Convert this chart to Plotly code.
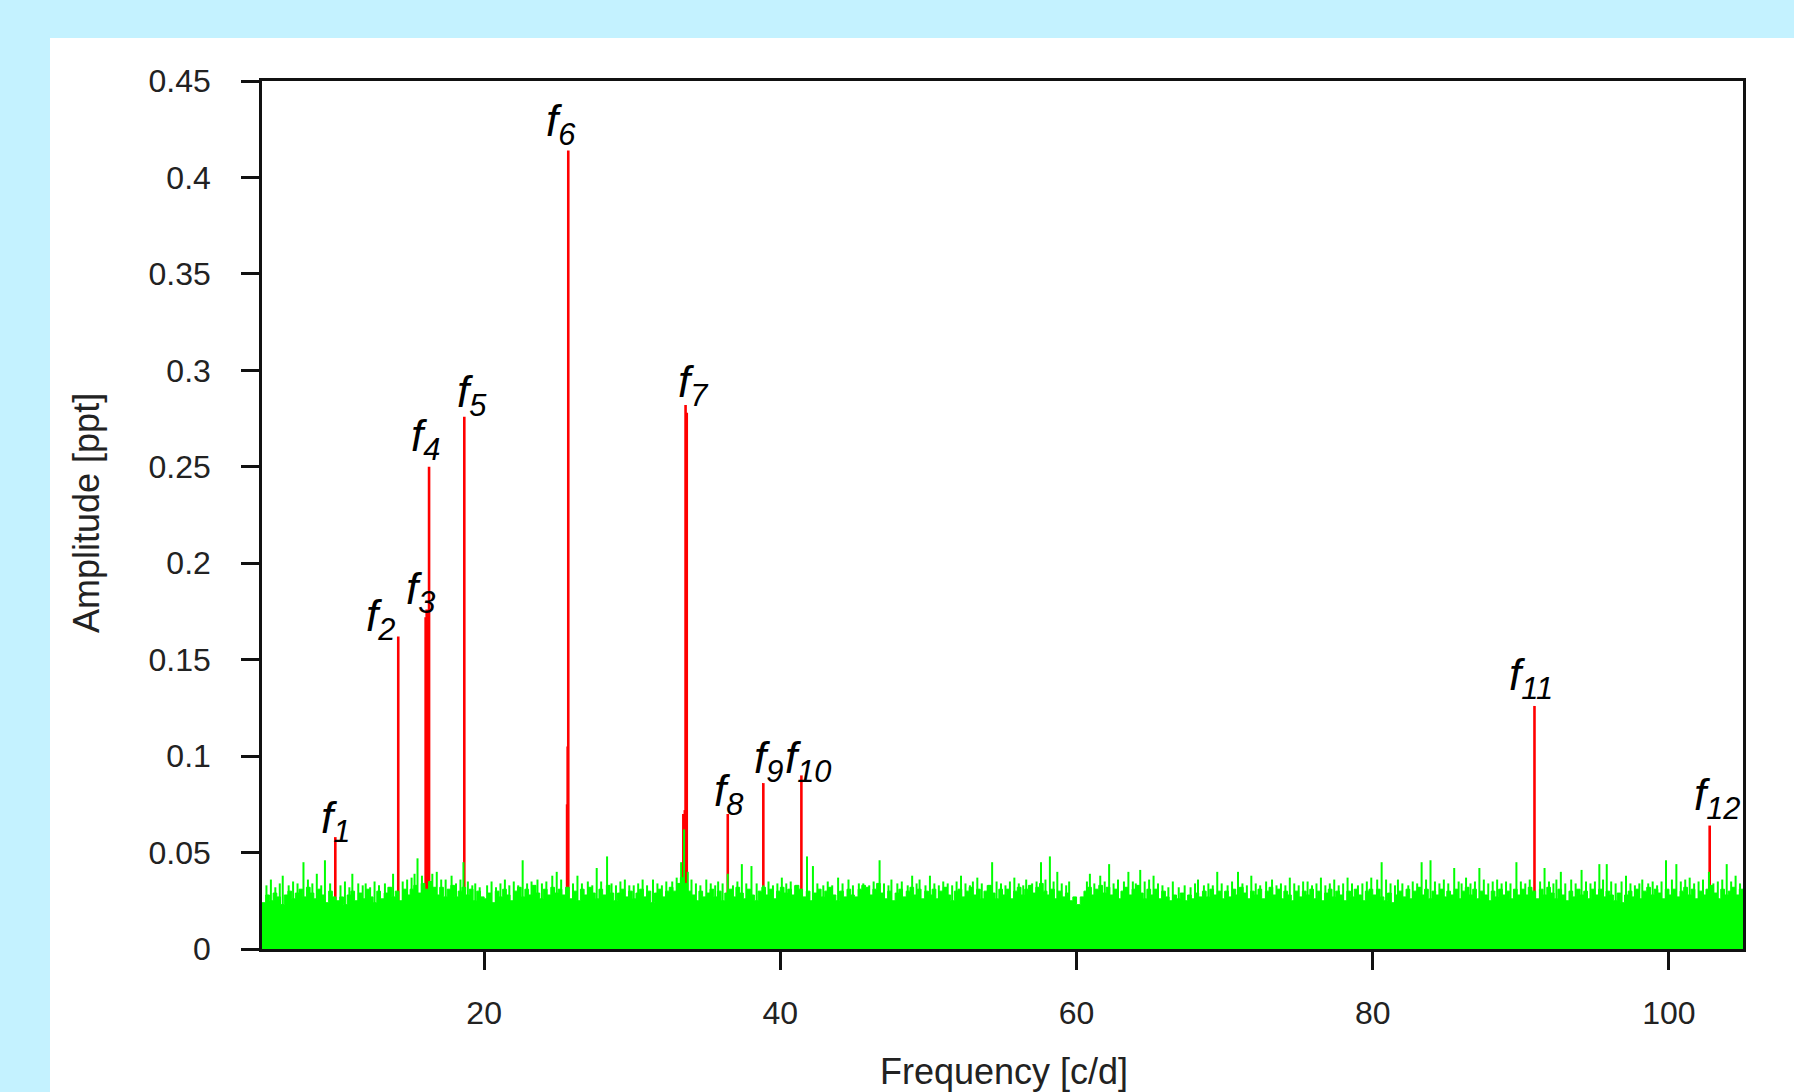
import numpy as np
import plotly.graph_objects as go

# ---------------- data ----------------
# identified frequencies (c/d) and amplitudes (ppt)
peak_labels = ["1", "2", "3", "4", "5", "6", "7", "8", "9", "10", "11", "12"]
peak_freq = [9.95, 14.2, 16.12, 16.28, 18.66, 25.68, 33.6, 36.45, 38.85, 41.42, 90.92, 102.75]
peak_amp = [0.058, 0.162, 0.176, 0.250, 0.276, 0.414, 0.282, 0.070, 0.086, 0.090, 0.126, 0.064]

# extra red structure (side lobes / unresolved components) of the original spectrum
extra_red_freq = [16.05, 16.2, 25.6, 25.64, 33.45, 33.55, 33.68]
extra_red_amp = [0.172, 0.168, 0.075, 0.105, 0.070, 0.072, 0.278]

# residual (prewhitened) spectrum: envelope sampled every 0.25 c/d from 5 to 105
noise_top = [
    0.024, 0.028, 0.025, 0.029, 0.027, 0.023, 0.028, 0.030, 0.026, 0.029, 0.031, 0.027, 0.032, 0.029, 0.026, 0.031, 0.028, 0.024, 0.030, 0.027,
    0.025, 0.027, 0.023, 0.028, 0.030, 0.025, 0.029, 0.026, 0.031, 0.027, 0.024, 0.030, 0.026, 0.029, 0.032, 0.027, 0.030, 0.025, 0.031, 0.028,
    0.031, 0.033, 0.029, 0.034, 0.031, 0.035, 0.032, 0.028, 0.032, 0.027, 0.031, 0.033, 0.027, 0.030, 0.032, 0.028, 0.031, 0.025, 0.030, 0.027,
    0.026, 0.029, 0.024, 0.030, 0.027, 0.031, 0.028, 0.025, 0.030, 0.032, 0.027, 0.031, 0.028, 0.033, 0.029, 0.026, 0.031, 0.028, 0.032, 0.029,
    0.031, 0.028, 0.032, 0.026, 0.030, 0.025, 0.031, 0.028, 0.032, 0.029, 0.026, 0.031, 0.028, 0.033, 0.029, 0.025, 0.029, 0.031, 0.027, 0.030,
    0.026, 0.029, 0.031, 0.027, 0.030, 0.024, 0.029, 0.031, 0.027, 0.030, 0.032, 0.030, 0.034, 0.037, 0.034, 0.030, 0.028, 0.025, 0.030, 0.027,
    0.029, 0.031, 0.027, 0.030, 0.025, 0.029, 0.031, 0.027, 0.032, 0.029, 0.026, 0.031, 0.028, 0.025, 0.030, 0.032, 0.028, 0.031, 0.026, 0.030,
    0.032, 0.029, 0.031, 0.028, 0.033, 0.031, 0.027, 0.030, 0.025, 0.029, 0.031, 0.027, 0.030, 0.032, 0.028, 0.025, 0.030, 0.027, 0.031, 0.028,
    0.027, 0.031, 0.033, 0.032, 0.028, 0.031, 0.034, 0.029, 0.026, 0.030, 0.025, 0.029, 0.031, 0.027, 0.030, 0.032, 0.028, 0.031, 0.026, 0.030,
    0.028, 0.031, 0.026, 0.030, 0.032, 0.028, 0.025, 0.030, 0.031, 0.027, 0.030, 0.032, 0.028, 0.031, 0.026, 0.030, 0.033, 0.029, 0.026, 0.031,
    0.028, 0.031, 0.026, 0.030, 0.032, 0.028, 0.031, 0.033, 0.029, 0.032, 0.034, 0.030, 0.028, 0.031, 0.026, 0.030, 0.027, 0.029, 0.025, 0.027,
    0.023, 0.027, 0.030, 0.032, 0.028, 0.031, 0.033, 0.029, 0.032, 0.028, 0.031, 0.026, 0.030, 0.032, 0.028, 0.031, 0.033, 0.029, 0.026, 0.031,
    0.028, 0.031, 0.026, 0.030, 0.027, 0.025, 0.028, 0.026, 0.029, 0.025, 0.028, 0.026, 0.029, 0.027, 0.030, 0.027, 0.031, 0.028, 0.030, 0.026,
    0.030, 0.027, 0.031, 0.028, 0.032, 0.029, 0.026, 0.030, 0.028, 0.031, 0.026, 0.030, 0.032, 0.028, 0.031, 0.026, 0.030, 0.028, 0.025, 0.030,
    0.027, 0.030, 0.028, 0.031, 0.026, 0.030, 0.025, 0.029, 0.031, 0.027, 0.030, 0.028, 0.025, 0.030, 0.027, 0.031, 0.028, 0.025, 0.030, 0.031,
    0.028, 0.031, 0.027, 0.025, 0.029, 0.024, 0.028, 0.030, 0.027, 0.031, 0.026, 0.030, 0.032, 0.028, 0.031, 0.026, 0.030, 0.028, 0.031, 0.027,
    0.030, 0.028, 0.031, 0.026, 0.030, 0.032, 0.028, 0.031, 0.026, 0.030, 0.028, 0.025, 0.030, 0.027, 0.031, 0.028, 0.030, 0.026, 0.031, 0.028,
    0.031, 0.028, 0.032, 0.030, 0.026, 0.031, 0.028, 0.032, 0.029, 0.026, 0.031, 0.028, 0.025, 0.030, 0.027, 0.031, 0.028, 0.030, 0.026, 0.031,
    0.028, 0.031, 0.027, 0.030, 0.028, 0.025, 0.029, 0.024, 0.028, 0.030, 0.027, 0.031, 0.026, 0.030, 0.032, 0.028, 0.031, 0.029, 0.026, 0.031,
    0.028, 0.031, 0.027, 0.030, 0.032, 0.028, 0.031, 0.026, 0.030, 0.028, 0.031, 0.033, 0.029, 0.026, 0.031, 0.028, 0.030, 0.032, 0.028, 0.031,
    0.030,
]
noise_step = 0.25
noise_start = 5.0

# isolated residual noise spikes: frequency (c/d) and amplitude (ppt)
spike_freq = [
    5.3, 5.6, 5.9, 6.2, 6.4, 6.8, 7.1, 7.4, 7.8, 8.1, 8.4, 8.7, 9.0, 9.25, 9.6,
    10.3, 10.6, 10.9, 11.1, 11.5, 11.8, 12.0, 12.3, 12.6, 12.9, 13.3, 13.6, 13.85, 14.5, 14.8,
    15.1, 15.3, 15.5, 15.8, 16.5, 16.8, 17.1, 17.4, 17.8, 18.1, 18.4, 18.6, 18.9, 19.2, 19.4, 19.7,
    20.2, 20.5, 20.8, 21.1, 21.4, 21.7, 22.0, 22.3, 22.6, 22.9, 23.2, 23.6, 23.9, 24.2, 24.6, 24.9, 25.2,
    26.0, 26.3, 26.6, 27.0, 27.3, 27.6, 27.9, 28.3, 28.6, 28.9, 29.2, 29.5, 29.8,
    30.1, 30.4, 30.7, 31.0, 31.4, 31.7, 32.0, 32.3, 32.7, 33.0, 33.3, 33.5, 33.75, 34.0, 34.3, 34.6, 35.0,
    35.3, 35.6, 35.8, 36.1, 36.45, 36.8, 37.1, 37.4, 37.7, 38.05, 38.4, 38.85, 39.2, 39.5, 39.8,
    40.1, 40.4, 40.7, 41.0, 41.8, 42.2, 42.5, 42.9, 43.2, 43.5, 43.9, 44.2, 44.6, 44.9,
    45.3, 45.6, 46.0, 46.3, 46.7, 47.0, 47.3, 47.5, 47.9, 48.2, 48.6, 48.9, 49.2, 49.4, 49.8,
    50.1, 50.4, 50.7, 51.0, 51.3, 51.6, 51.9, 52.2, 52.5, 52.8, 53.0, 53.3, 53.6, 54.0, 54.3, 54.6, 54.9,
    55.2, 55.5, 55.8, 56.1, 56.4, 56.6, 57.0, 57.3, 57.6, 57.9, 58.2, 58.45, 58.7, 59.0, 59.3, 59.5,
    60.7, 60.9, 61.2, 61.6, 61.9, 62.2, 62.5, 62.8, 63.2, 63.5, 63.8, 64.0, 64.3, 64.6, 64.9, 65.2,
    65.5, 65.8, 66.2, 66.5, 66.9, 67.3, 67.7, 68.0, 68.2, 68.6, 68.9, 69.2, 69.5, 69.8,
    70.2, 70.5, 70.9, 71.2, 71.5, 71.8, 72.1, 72.4, 72.8, 73.2, 73.5, 73.8, 74.1, 74.4, 74.7,
    75.0, 75.3, 75.6, 75.9, 76.2, 76.5, 76.8, 77.1, 77.4, 77.7, 78.0, 78.3, 78.6, 79.0, 79.3, 79.6, 79.9,
    80.3, 80.6, 80.9, 81.2, 81.5, 81.7, 82.0, 82.4, 82.7, 83.0, 83.3, 83.6, 83.9, 84.2, 84.5, 84.8,
    85.1, 85.5, 85.8, 86.0, 86.3, 86.6, 86.9, 87.2, 87.5, 87.8, 88.1, 88.4, 88.7, 89.0, 89.3, 89.7,
    90.0, 90.3, 90.6, 91.3, 91.6, 91.9, 92.2, 92.4, 92.7, 93.0, 93.4, 93.7, 94.1, 94.4, 94.7,
    95.0, 95.3, 95.55, 95.8, 96.1, 96.4, 96.8, 97.1, 97.4, 97.7, 98.0, 98.2, 98.6, 98.9, 99.2, 99.5, 99.8,
    100.2, 100.5, 100.8, 101.1, 101.4, 101.7, 102.0, 102.3, 102.7, 103.0, 103.3, 103.6, 103.9, 104.2, 104.5, 104.8,
]
spike_amp = [
    0.033, 0.036, 0.032, 0.034, 0.038, 0.033, 0.035, 0.034, 0.045, 0.036, 0.034, 0.039, 0.033, 0.046, 0.034,
    0.033, 0.035, 0.032, 0.039, 0.034, 0.033, 0.034, 0.032, 0.035, 0.033, 0.034, 0.032, 0.039, 0.035, 0.036,
    0.037, 0.039, 0.047, 0.038, 0.039, 0.040, 0.036, 0.036, 0.038, 0.034, 0.036, 0.045, 0.035, 0.033, 0.034, 0.032,
    0.033, 0.035, 0.032, 0.034, 0.036, 0.033, 0.035, 0.033, 0.046, 0.034, 0.035, 0.036, 0.034, 0.035, 0.038, 0.040, 0.036,
    0.034, 0.038, 0.034, 0.035, 0.033, 0.042, 0.035, 0.048, 0.034, 0.033, 0.035, 0.036, 0.033,
    0.033, 0.034, 0.036, 0.033, 0.036, 0.034, 0.033, 0.035, 0.035, 0.037, 0.045, 0.062, 0.040, 0.036, 0.034, 0.033, 0.036,
    0.034, 0.033, 0.035, 0.034, 0.039, 0.033, 0.035, 0.044, 0.034, 0.043, 0.034, 0.033, 0.035, 0.033, 0.034,
    0.037, 0.034, 0.035, 0.033, 0.048, 0.043, 0.034, 0.033, 0.035, 0.033, 0.037, 0.034, 0.036, 0.033,
    0.034, 0.034, 0.033, 0.035, 0.046, 0.034, 0.033, 0.036, 0.034, 0.035, 0.033, 0.038, 0.034, 0.036, 0.033,
    0.038, 0.034, 0.033, 0.035, 0.034, 0.033, 0.035, 0.038, 0.034, 0.033, 0.035, 0.037, 0.034, 0.033, 0.045, 0.035, 0.034,
    0.033, 0.035, 0.037, 0.034, 0.033, 0.036, 0.034, 0.035, 0.045, 0.036, 0.048, 0.035, 0.040, 0.034, 0.033, 0.035,
    0.035, 0.039, 0.034, 0.038, 0.035, 0.044, 0.034, 0.036, 0.035, 0.040, 0.035, 0.034, 0.041, 0.035, 0.036, 0.038,
    0.034, 0.033, 0.032, 0.035, 0.032, 0.033, 0.032, 0.034, 0.036, 0.033, 0.034, 0.033, 0.040, 0.034,
    0.033, 0.035, 0.040, 0.034, 0.033, 0.038, 0.034, 0.033, 0.035, 0.036, 0.033, 0.034, 0.033, 0.037, 0.034,
    0.033, 0.035, 0.035, 0.033, 0.034, 0.037, 0.033, 0.034, 0.036, 0.033, 0.034, 0.037, 0.034, 0.033, 0.034, 0.035, 0.037,
    0.036, 0.045, 0.036, 0.034, 0.033, 0.036, 0.034, 0.033, 0.035, 0.034, 0.045, 0.036, 0.046, 0.035, 0.034, 0.036,
    0.034, 0.042, 0.035, 0.034, 0.037, 0.034, 0.035, 0.042, 0.036, 0.034, 0.035, 0.036, 0.034, 0.035, 0.034, 0.045,
    0.035, 0.034, 0.036, 0.035, 0.042, 0.035, 0.034, 0.036, 0.040, 0.034, 0.036, 0.034, 0.041, 0.035, 0.034,
    0.035, 0.044, 0.036, 0.044, 0.035, 0.034, 0.035, 0.038, 0.034, 0.033, 0.034, 0.036, 0.034, 0.035, 0.033, 0.035, 0.046,
    0.036, 0.044, 0.035, 0.036, 0.037, 0.034, 0.035, 0.036, 0.040, 0.034, 0.035, 0.036, 0.044, 0.035, 0.038, 0.034,
]

# axis ticks
y_ticks = [0, 0.05, 0.1, 0.15, 0.2, 0.25, 0.3, 0.35, 0.4, 0.45]
x_ticks = [20, 40, 60, 80, 100]

# label pixel offsets (styling)
label_dx = [0, -18, -6, -4, 8, -7, 8, 1, 5, 7, -3, 8]
label_dy = [-14, -12, -12, -2, -8, -4, -10, -10, -8, -16, -2, -2]

# ---------------- figure ----------------
W, H = 1794, 1092
L, R, T, B = 262, 51, 81, 143
pw, ph = W - L - R, H - T - B
FONT = "Liberation Sans, Arial, sans-serif"

fig = go.Figure()

# red original spectrum peaks
rx, ry = [], []
for f, a in zip(peak_freq + extra_red_freq, peak_amp + extra_red_amp):
    rx += [f, f, None]
    ry += [0, a, None]
fig.add_trace(go.Scatter(x=rx, y=ry, mode="lines", line=dict(color="#ff0000", width=2.6),
                         hoverinfo="skip", showlegend=False))

# green residual spectrum: filled envelope
nx = noise_start + noise_step * np.arange(len(noise_top))
fig.add_trace(go.Scatter(x=nx, y=noise_top, mode="lines", line=dict(color="#00ff00", width=1, shape="hv"),
                         fill="tozeroy", fillcolor="#00ff00", hoverinfo="skip", showlegend=False))

# green residual spikes
gx, gy = [], []
for f, a in zip(spike_freq, spike_amp):
    gx += [f, f, None]
    gy += [0, a, None]
fig.add_trace(go.Scatter(x=gx, y=gy, mode="lines", line=dict(color="#00ff00", width=2),
                         hoverinfo="skip", showlegend=False))

annotations = []
for lab, f, a, dx, dy in zip(peak_labels, peak_freq, peak_amp, label_dx, label_dy):
    annotations.append(dict(x=f, y=a, xref="x", yref="y", text=f"<i>f<sub>{lab}</sub></i>",
                            showarrow=False, xanchor="center", yanchor="bottom", xshift=dx, yshift=dy,
                            font=dict(family=FONT, size=44, color="black")))

annotations.append(dict(x=(1004 - L) / pw, y=(H - B - 1071) / ph, xref="paper", yref="paper",
                        text="Frequency [c/d]", showarrow=False, xanchor="center", yanchor="middle",
                        font=dict(family=FONT, size=36, color="#222")))
annotations.append(dict(x=(86 - L) / pw, y=(H - B - 513) / ph, xref="paper", yref="paper",
                        text="Amplitude [ppt]", showarrow=False, xanchor="center", yanchor="middle",
                        textangle=-90,
                        font=dict(family=FONT, size=36, color="#222")))

fig.update_layout(
    width=W, height=H,
    margin=dict(l=L, r=R, t=T, b=B, pad=0),
    paper_bgcolor="#c4f2ff",
    plot_bgcolor="white",
    annotations=annotations,
    shapes=[dict(type="rect", xref="paper", yref="paper",
                 x0=(50 - L) / pw, x1=(W - L) / pw + 0.01,
                 y0=(H - B - H) / ph - 0.01, y1=(H - B - 38) / ph,
                 fillcolor="white", line=dict(width=0), layer="below")],
)
fig.update_xaxes(range=[5, 105], tickvals=x_ticks, ticks="outside", ticklen=18, tickwidth=2.5,
                 tickcolor="#111", showline=True, linecolor="#111", linewidth=2.5, mirror=True,
                 showgrid=False, zeroline=False, ticklabelstandoff=16,
                 tickfont=dict(family=FONT, size=32, color="#222"))
fig.update_yaxes(range=[0, 0.45], tickvals=y_ticks, ticks="outside", ticklen=18, tickwidth=2.5,
                 tickcolor="#111", showline=True, linecolor="#111", linewidth=2.5, mirror=True,
                 showgrid=False, zeroline=False, ticklabelstandoff=24,
                 tickfont=dict(family=FONT, size=32, color="#222"))

fig.write_html("out.html", config={"displayModeBar": False}, post_script=(
    "document.body.style.margin='0';document.body.style.padding='0';"
    "document.body.style.overflow='hidden';document.body.style.background='#c4f2ff';"))
